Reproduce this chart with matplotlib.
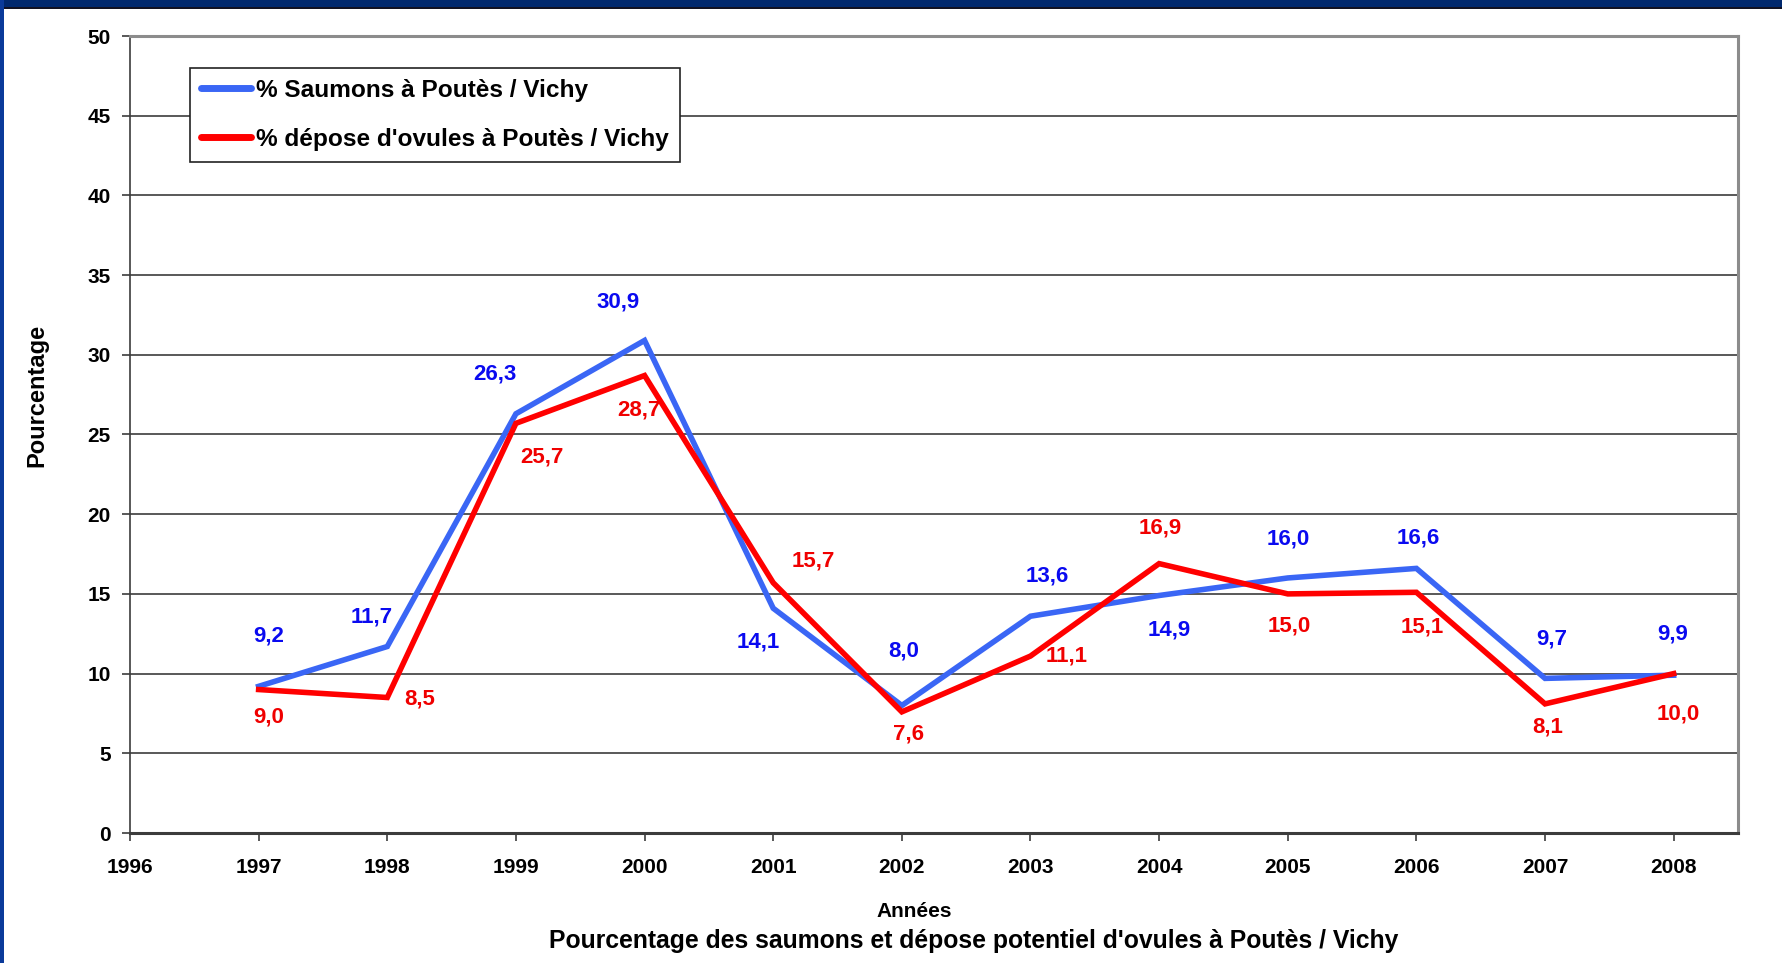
import matplotlib
matplotlib.use("Agg")
import matplotlib.pyplot as plt
from matplotlib import font_manager
from matplotlib.patches import Rectangle

# --- data -------------------------------------------------------------
years = [1997, 1998, 1999, 2000, 2001, 2002, 2003, 2004, 2005, 2006, 2007, 2008]
saumons = [9.2, 11.7, 26.3, 30.9, 14.1, 8.0, 13.6, 14.9, 16.0, 16.6, 9.7, 9.9]
depose = [9.0, 8.5, 25.7, 28.7, 15.7, 7.6, 11.1, 16.9, 15.0, 15.1, 8.1, 10.0]
x_ticks = list(range(1996, 2009))
y_ticks = list(range(0, 51, 5))

label_saumons = "% Saumons à Poutès / Vichy"
label_depose = "% dépose d'ovules à Poutès / Vichy"
x_title = "Années"
y_title = "Pourcentage"
caption = "Pourcentage des saumons et dépose potentiel d'ovules à Poutès / Vichy"

# value-label offsets (points) for each series
off_saumons = [(7, 36), (-11, 21), (-15, 29), (-19, 28), (-11, -24), (1, 39),
               (12, 29), (7, -25), (0, 28), (1, 22), (5, 28), (-1, 30)]
off_depose = [(7, -20), (23, -1), (19, -24), (-4, -25), (29, 16), (5, -16),
              (26, 0), (1, 26), (1, -23), (4, -25), (2, -17), (3, -29)]

# --- fonts --------------------------------------------------------------
installed = {f.name for f in font_manager.fontManager.ttflist}
narrow = "Liberation Sans Narrow" if "Liberation Sans Narrow" in installed else "Liberation Sans"
regular = "Liberation Sans"

BLUE = "#3A66F5"
RED = "#FF0000"
GRID = "#3C3C3C"

fig = plt.figure(figsize=(17.82, 9.63), dpi=100)
fig.patch.set_facecolor("white")

# navy frame along the top and left edges
fig.patches.append(Rectangle((0, 1 - 8 / 963), 1, 8 / 963, transform=fig.transFigure,
                             facecolor="#00286E", edgecolor="none", zorder=0))
fig.patches.append(Rectangle((0, 1 - 9.5 / 963), 1, 2 / 963, transform=fig.transFigure,
                             facecolor="#111122", edgecolor="none", zorder=0))
fig.patches.append(Rectangle((0, 0), 4 / 1782, 1, transform=fig.transFigure,
                             facecolor="#0A3A9A", edgecolor="none", zorder=0))

ax = fig.add_axes([130 / 1782, 1 - 833 / 963, 1608 / 1782, 797 / 963])
ax.set_xlim(1996, 2008.5)
ax.set_ylim(0, 50)
ax.set_xticks(x_ticks)
ax.set_yticks(y_ticks)
ax.set_xticklabels([str(t) for t in x_ticks], fontfamily=narrow, fontweight="bold", fontsize=15)
ax.set_yticklabels([str(t) for t in y_ticks], fontfamily=narrow, fontweight="bold", fontsize=15)
ax.tick_params(axis="both", direction="out", length=6, width=1.2, color=GRID, pad=8)
ax.tick_params(axis="x", pad=12)

ax.grid(axis="y", color=GRID, linewidth=1.2)
ax.set_axisbelow(True)

ax.spines["left"].set_color(GRID)
ax.spines["left"].set_linewidth(1.2)
ax.spines["bottom"].set_color(GRID)
ax.spines["bottom"].set_linewidth(2.2)
for side in ("top", "right"):
    ax.spines[side].set_color("#8C8C8C")
    ax.spines[side].set_linewidth(2.2)

ax.plot(years, saumons, color=BLUE, linewidth=4, label=label_saumons, zorder=3,
        solid_joinstyle="miter")
ax.plot(years, depose, color=RED, linewidth=4, label=label_depose, zorder=4,
        solid_joinstyle="miter")

def fmt(v):
    return f"{v:.1f}".replace(".", ",")

for x, v, (dx, dy) in zip(years, saumons, off_saumons):
    ax.annotate(fmt(v), (x, v), xytext=(dx, dy), textcoords="offset points",
                ha="center", va="center", color="#0A0AF0", fontsize=16,
                fontfamily=narrow, fontweight="bold", zorder=5)
for x, v, (dx, dy) in zip(years, depose, off_depose):
    ax.annotate(fmt(v), (x, v), xytext=(dx, dy), textcoords="offset points",
                ha="center", va="center", color="#F00000", fontsize=16,
                fontfamily=narrow, fontweight="bold", zorder=5)

leg = ax.legend(loc="upper left", bbox_to_anchor=(0.0373, 0.960), borderaxespad=0,
                prop={"family": narrow, "weight": "bold", "size": 17.6},
                frameon=True, fancybox=False, edgecolor="#222222", framealpha=1,
                handlelength=2.05, handletextpad=0.2, labelspacing=1.05,
                borderpad=0.45)
leg.get_frame().set_linewidth(1.2)
for line in leg.get_lines():
    line.set_linewidth(5)
    line.set_solid_capstyle("round")

fig.text(37 / 1782, 1 - 348 * 1.1365 / 963, y_title, rotation=90, ha="center", va="center",
         fontfamily=regular, fontweight="bold", fontsize=17)
fig.text(914 / 1782, 1 - 911 / 963, x_title, ha="center", va="center",
         fontfamily=narrow, fontweight="bold", fontsize=15)
fig.text(974 / 1782, 1 - 941 / 963, caption, ha="center", va="center",
         fontfamily=narrow, fontweight="bold", fontsize=17.8)

fig.savefig("out.png", dpi=100, facecolor="white")
